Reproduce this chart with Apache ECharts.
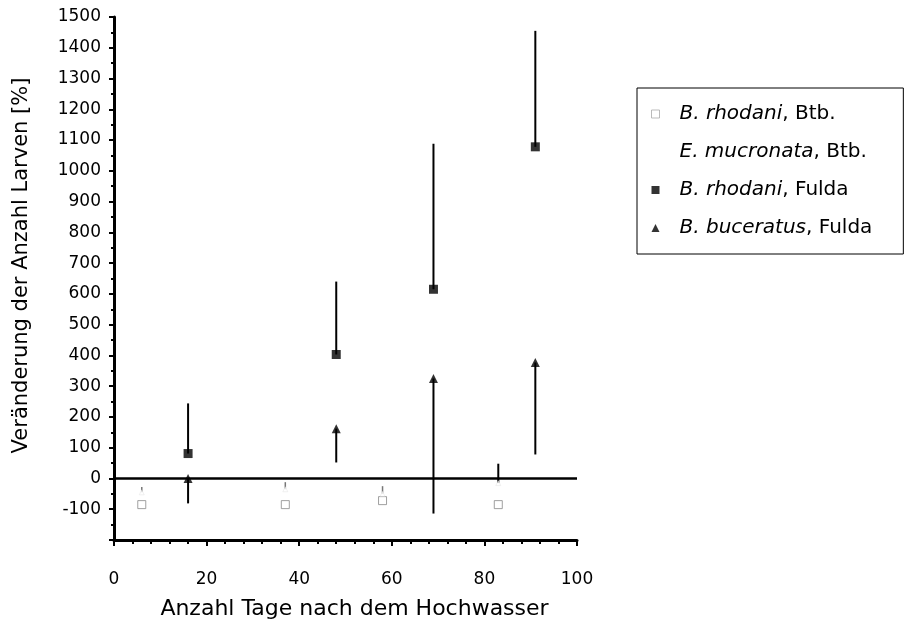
<!DOCTYPE html>
<html>
<head>
<meta charset="utf-8">
<script src="https://cdn.jsdelivr.net/npm/echarts@6/dist/echarts.min.js"></script>
<style>html,body{margin:0;padding:0;background:#fff}#c{width:907px;height:630px}</style>
</head>
<body>
<div id="c"></div>
<script>
// Days after flood (x) and change in larvae count [%] (y)
const rhodaniBtbX = [6, 37, 58, 83];
const rhodaniBtbY = [-85, -85, -72, -85];

const mucronataX = [6, 37, 58, 83];
const mucronataY = [-45, -35, -50, -15];
const mucronataErr = [-28, -12, -25, 48];

const rhodaniFuldaX = [16, 48, 69, 91];
const rhodaniFuldaY = [81, 403, 615, 1078];
const rhodaniFuldaErr = [244, 640, 1088, 1455];

const buceratusX = [16, 48, 69, 91];
const buceratusY = [0, 162, 325, 377];
const buceratusErr = [-81, 52, -114, 78];

const zeroLineX = [0, 100];
const zeroLineY = [0, 0];

const seriesNames = ['B. rhodani, Btb.', 'E. mucronata, Btb.', 'B. rhodani, Fulda', 'B. buceratus, Fulda'];

const pairs = (xs, ys) => xs.map((x, i) => [x, ys[i]]);
const errData = (xs, ys, es) => xs.map((x, i) => [x, ys[i], es[i]]);

function errRender(color, width) {
  return function (params, api) {
    const p0 = api.coord([api.value(0), api.value(1)]);
    const p1 = api.coord([api.value(0), api.value(2)]);
    const strong = api.value(2) > 0;
    return {
      type: 'line',
      shape: { x1: p0[0], y1: p0[1], x2: p1[0], y2: p1[1] },
      style: { stroke: strong ? '#000' : color, lineWidth: strong ? 2 : width }
    };
  };
}

const FONT = 'DejaVu Sans';
const chart = echarts.init(document.getElementById('c'), null, { renderer: 'canvas' });
chart.setOption({
  animation: false,
  backgroundColor: '#fff',
  textStyle: { fontFamily: FONT, color: '#000' },
  grid: { left: 114, right: 330, top: 17, bottom: 90, containLabel: false },
  legend: {
    orient: 'vertical',
    left: 637,
    top: 88,
    padding: [16, 31, 16, 14],
    itemGap: 18,
    itemWidth: 8,
    itemHeight: 8,
    borderColor: '#000',
    borderWidth: 1,
    data: [
      { name: seriesNames[0], icon: 'rect', itemStyle: { color: '#fff', borderColor: '#aaa', borderWidth: 1 } },
      { name: seriesNames[1], icon: 'circle', itemStyle: { color: '#fff', borderWidth: 0 } },
      { name: seriesNames[2], icon: 'rect', itemStyle: { color: '#000' } },
      { name: seriesNames[3], icon: 'triangle', itemStyle: { color: '#000' } }
    ],
    formatter: function (name) {
      const idx = name.indexOf(',');
      return '{i|' + name.slice(0, idx) + '}' + name.slice(idx);
    },
    textStyle: {
      fontFamily: FONT, fontSize: 20, color: '#000', lineHeight: 20, padding: [0, 0, 0, 15],
      rich: { i: { fontStyle: 'italic', fontFamily: FONT, fontSize: 20, color: '#000' } }
    }
  },
  xAxis: {
    type: 'value',
    min: 0, max: 100, interval: 20,
    name: 'Anzahl Tage nach dem Hochwasser',
    nameLocation: 'middle',
    nameGap: 58,
    nameTextStyle: { fontFamily: FONT, fontSize: 22, color: '#000', padding: [0, 0, 0, 18] },
    axisLine: { onZero: false, lineStyle: { color: '#000', width: 3 } },
    axisTick: { show: true, length: 6, lineStyle: { color: '#000', width: 2 } },
    minorTick: { show: true, splitNumber: 5, length: 4, lineStyle: { color: '#000', width: 2 } },
    axisLabel: { fontFamily: FONT, fontSize: 17, color: '#000', margin: 31 },
    splitLine: { show: false }
  },
  yAxis: {
    type: 'value',
    min: -200, max: 1500, interval: 100,
    name: 'Veränderung der Anzahl Larven [%]',
    nameLocation: 'middle',
    nameGap: 82,
    nameTextStyle: { fontFamily: FONT, fontSize: 21, color: '#000', padding: [0, 0, 0, 26] },
    axisLine: { lineStyle: { color: '#000', width: 3 } },
    axisTick: { show: true, length: 5, lineStyle: { color: '#000', width: 2 } },
    minorTick: { show: true, splitNumber: 2, length: 3, lineStyle: { color: '#000', width: 2 } },
    axisLabel: {
      fontFamily: FONT, fontSize: 17, color: '#000', margin: 13,
      formatter: v => (v === -200 ? '' : String(v))
    },
    splitLine: { show: false }
  },
  series: [
    {
      type: 'line', name: 'zero', data: pairs(zeroLineX, zeroLineY),
      symbol: 'none', lineStyle: { color: '#000', width: 2.5 }, silent: true, z: 1
    },
    {
      type: 'custom', name: 'errMuc', data: errData(mucronataX, mucronataY, mucronataErr),
      renderItem: errRender('#777', 1.5), z: 2
    },
    {
      type: 'custom', name: 'errRhF', data: errData(rhodaniFuldaX, rhodaniFuldaY, rhodaniFuldaErr),
      renderItem: errRender('#000', 2), z: 2
    },
    {
      type: 'custom', name: 'errBuc', data: errData(buceratusX, buceratusY, buceratusErr),
      renderItem: errRender('#000', 2), z: 2
    },
    {
      type: 'scatter', name: seriesNames[0], data: pairs(rhodaniBtbX, rhodaniBtbY),
      symbol: 'rect', symbolSize: 8,
      itemStyle: { color: '#fff', borderColor: '#888', borderWidth: 1 }, z: 3
    },
    {
      type: 'scatter', name: seriesNames[1], data: pairs(mucronataX, mucronataY),
      symbol: 'triangle', symbolSize: 5,
      itemStyle: { color: '#fff', borderColor: '#ddd', borderWidth: 0.5 }, z: 3
    },
    {
      type: 'scatter', name: seriesNames[2], data: pairs(rhodaniFuldaX, rhodaniFuldaY),
      symbol: 'rect', symbolSize: 9, itemStyle: { color: '#000' }, z: 3
    },
    {
      type: 'scatter', name: seriesNames[3], data: pairs(buceratusX, buceratusY),
      symbol: 'triangle', symbolSize: 9, itemStyle: { color: '#000' }, z: 3
    }
  ]
});
</script>
</body>
</html>
